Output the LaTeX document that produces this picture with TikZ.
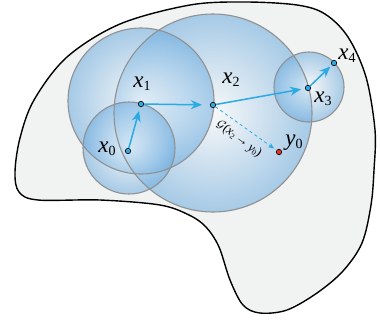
\documentclass[tikz,border=0pt]{standalone}
\usepackage{fontspec}
\setmainfont{Liberation Serif}
\usetikzlibrary{arrows.meta}
\definecolor{dotblue}{RGB}{41,171,226}
\definecolor{dotred}{RGB}{232,49,47}
\definecolor{blobfill}{RGB}{241,242,242}
\definecolor{ballblue}{RGB}{105,170,222}
\definecolor{ringgray}{RGB}{145,145,145}
\newcommand\subvar[3]{{\itshape #1}\raisebox{-0.12em}{\fontsize{#3}{#3}\selectfont #2}}
\tikzset{
  blob/.style={draw=black, line width=1.4pt, fill=blobfill},
  ballfill/.style={inner color=white, outer color=ballblue, fill opacity=0.55},
  ring/.style={draw=ringgray, line width=1.1pt},
  dot/.style={circle, draw=black, line width=0.6pt, fill=dotblue, inner sep=0pt, minimum size=5.5pt},
  reddot/.style={dot, fill=dotred},
  arr/.style={draw=dotblue, line width=1.5pt, -{Stealth[length=11pt,width=9pt]}},
  dasharr/.style={draw=dotblue, line width=0.8pt, dashed, -{Stealth[length=6pt,width=5pt]}},
  lab/.style={font=\fontsize{23}{26}\selectfont, inner sep=0pt},
  glab/.style={font=\fontsize{13}{15}\selectfont, inner sep=0pt}
}
\begin{document}
\begin{tikzpicture}[x=1pt,y=-1pt]
\useasboundingbox (0,0) rectangle (380,322);
% blob
\draw[blob] plot[smooth cycle, tension=0.55] coordinates {
 (15,172) (20,138) (34,100) (67,57) (120,24) (190,5) (245,2) (297,5)
 (325,14) (348,37) (366,77) (375,130) (374,170) (371,205) (362,243)
 (343,271) (317,293) (287,310) (260,313) (243,305) (230,280) (219,247)
 (206,227) (189,215) (160,205) (100,200) (38,200) (19,192)};
% balls
\shade[ballfill] (213,113) circle (99);
\shade[ballfill] (141,101) circle (73);
\shade[ballfill] (129,148) circle (46);
\shade[ballfill] (309,87) circle (35);
\draw[ring] (213,113) circle (99);
\draw[ring] (141,101) circle (73);
\draw[ring] (129,148) circle (46);
\draw[ring] (309,87) circle (35);
% points
\node[dot] (p0) at (128,151) {};
\node[dot] (p1) at (141,104) {};
\node[dot] (p2) at (213,105) {};
\node[dot] (p3) at (308,88) {};
\node[dot] (p4) at (334,63) {};
\node[reddot] (q0) at (279,152) {};
% connectors
\draw[arr, shorten >=4pt] (p0) -- (p1);
\draw[arr, shorten >=8pt] (p1) -- (p2);
\draw[arr, shorten >=4pt] (p2) -- (p3);
\draw[arr, shorten >=2pt] (p3) -- (p4);
\draw[dasharr, shorten >=3pt] (p2) -- (q0);
% labels
\node[lab] (l0) at (107,149) {\subvar{x}{0}{14}};
\node[lab] (l1) at (142,84) {\subvar{x}{1}{14}};
\node[lab] (l2) at (231,80) {\subvar{x}{2}{14}};
\node[lab] (l3) at (323,99) {\subvar{x}{3}{14}};
\node[lab] (l4) at (347,56) {\subvar{x}{4}{14}};
\node[lab] (m0) at (294,143) {\subvar{y}{0}{14}};
\node[glab, rotate=-37] (g) at (239,139) {$\mathcal{G}$(\subvar{x}{2}{8}\,→\,\subvar{y}{0}{8})};
\end{tikzpicture}
\end{document}
